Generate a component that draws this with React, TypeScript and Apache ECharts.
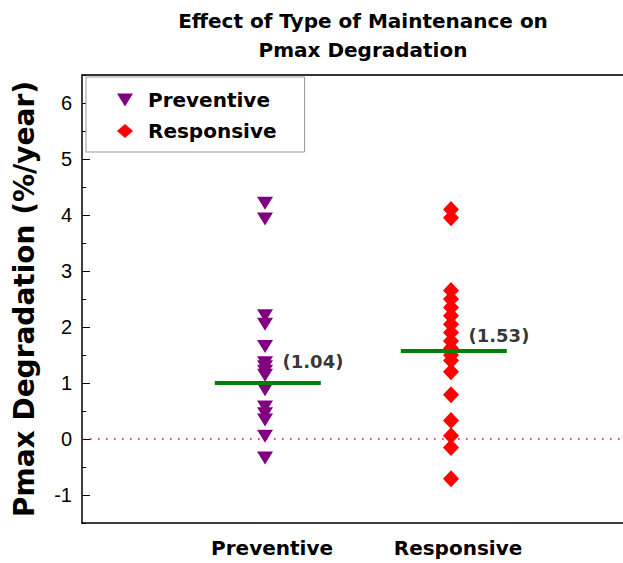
import React, { useEffect, useRef } from "react";
import * as echarts from "echarts";

const categories = ["Preventive", "Responsive"];
const categoryPos = [1, 2];
const preventive = [4.21, 3.93, 2.2, 2.05, 1.65, 1.36, 1.29, 1.21, 1.14, 0.88, 0.57, 0.45, 0.34, 0.05, -0.34];
const responsive = [4.1, 3.95, 2.65, 2.5, 2.35, 2.2, 2.05, 1.9, 1.75, 1.62, 1.5, 1.4, 1.2, 0.79, 0.33, 0.06, -0.15, -0.71];
const meanValues = [1.0, 1.57];
const meanLabels = ["(1.04)", "(1.53)"];
const yTickValues = [-1, 0, 1, 2, 3, 4, 5, 6];
const yMinorTickValues = [-1.5, -1, -0.5, 0, 0.5, 1, 1.5, 2, 2.5, 3, 3.5, 4, 4.5, 5, 5.5, 6, 6.5];

const FONT = "'Liberation Sans', Arial, Helvetica, sans-serif";
const BOLD = "'DejaVu Sans', 'Liberation Sans', Arial, sans-serif";
const TRI = "path://M0,0 L16,0 L8,13 Z";
const labelOffsets = [[0, -22], [0, -16]];
const GRID = { left: 82, top: 75, width: 555, height: 448, outerBoundsMode: "none", containLabel: false, show: false };
const X_MIN = 0.016;
const X_MAX = 3;
const Y_MIN = -1.5;
const Y_MAX = 6.5;

export default function App() {
  const ref = useRef<HTMLDivElement>(null);
  useEffect(() => {
    if (!ref.current) return;
    document.documentElement.style.overflow = "hidden";
    document.body.style.overflow = "hidden";
    document.body.style.margin = "0";
    const chart = echarts.init(ref.current, null, { renderer: "svg" });
    const meanLineSeries = meanValues.map((m, i) => ({
      name: "mean" + i,
      type: "line",
      data: [
        [categoryPos[i] - 0.27, m],
        [categoryPos[i] + 0.3, m],
      ],
      symbol: "none",
      lineStyle: { color: "#008000", width: 4 },
      z: 5,
      silent: true,
    }));
    const meanLabelSeries = {
      name: "meanLabels",
      type: "scatter",
      data: meanValues.map((m, i) => ({
        value: [categoryPos[i], m],
        label: { offset: labelOffsets[i] },
      })),
      symbolSize: 1,
      itemStyle: { color: "rgba(0,0,0,0)" },
      label: {
        show: true,
        position: "right",
        distance: 17,
        formatter: (p: any) => meanLabels[p.dataIndex],
        fontFamily: BOLD,
        fontSize: 18,
        fontWeight: "bold",
        color: "#000",
      },
      z: 6,
      silent: true,
    };
    chart.setOption({
      animation: false,
      backgroundColor: "#fff",
      title: {
        text: "Effect of Type of Maintenance on\nPmax Degradation",
        left: 363,
        top: 6,
        padding: 0,
        textAlign: "center",
        textStyle: { fontFamily: BOLD, fontSize: 20, fontWeight: "bold", color: "#000", lineHeight: 29 },
      },
      legend: {
        orient: "vertical",
        left: 86,
        top: 77,
        padding: [13, 28, 11, 31],
        itemGap: 11,
        itemWidth: 16,
        itemHeight: 14,
        borderColor: "#999",
        borderWidth: 1,
        backgroundColor: "#fff",
        textStyle: { fontFamily: BOLD, fontSize: 20, fontWeight: "bold", color: "#000", padding: [0, 0, 0, 10] },
        data: [
          { name: categories[0], icon: TRI },
          { name: categories[1], icon: "diamond" },
        ],
      },
      grid: [GRID, { ...GRID }],
      xAxis: [
        {
          type: "value",
          gridIndex: 0,
          position: "bottom",
          min: X_MIN,
          max: X_MAX,
          splitLine: { show: false },
          splitArea: { show: false },
          axisTick: { show: false },
          axisLine: { onZero: false, lineStyle: { color: "#000", width: 1.5 } },
          axisLabel: {
            margin: 15,
            padding: [0, 0, 0, 14],
            fontFamily: BOLD,
            fontSize: 20,
            fontWeight: "bold",
            color: "#000",
            customValues: categoryPos,
            formatter: (v: number) => {
              const idx = categoryPos.indexOf(v);
              return idx >= 0 ? categories[idx] : "";
            },
          },
        },
        {
          type: "value",
          gridIndex: 1,
          position: "top",
          min: X_MIN,
          max: X_MAX,
          splitLine: { show: false },
          splitArea: { show: false },
          axisTick: { show: false },
          axisLabel: { show: false },
          axisLine: { onZero: false, lineStyle: { color: "#333", width: 2 } },
        },
      ],
      yAxis: [
        {
          type: "value",
          gridIndex: 0,
          position: "left",
          min: Y_MIN,
          max: Y_MAX,
          name: "Pmax Degradation (%/year)",
          nameLocation: "middle",
          nameGap: 44,
          nameTextStyle: { fontFamily: BOLD, fontSize: 28, fontWeight: "bold", color: "#000" },
          splitLine: { show: false },
          splitArea: { show: false },
          axisLine: { show: true, onZero: false, lineStyle: { color: "#000", width: 1.5 } },
          axisTick: {
            show: true,
            inside: true,
            length: 8,
            customValues: yTickValues,
            lineStyle: { color: "#000", width: 1 },
          },
          axisLabel: {
            margin: 10,
            fontFamily: FONT,
            fontSize: 20,
            color: "#000",
            customValues: yTickValues,
            formatter: (v: number) => String(v),
          },
        },
        {
          type: "value",
          gridIndex: 1,
          position: "left",
          min: Y_MIN,
          max: Y_MAX,
          splitLine: { show: false },
          splitArea: { show: false },
          axisLine: { show: false, onZero: false },
          axisLabel: { show: false },
          axisTick: {
            show: true,
            inside: true,
            length: 4,
            customValues: yMinorTickValues,
            lineStyle: { color: "#000", width: 1 },
          },
        },
      ],
      series: [
        {
          name: "zeroLine",
          type: "line",
          data: [
            [X_MIN, 0],
            [X_MAX, 0],
          ],
          symbol: "none",
          silent: true,
          lineStyle: { color: "#ff0000", width: 1.5, type: [1.5, 6.5] },
          z: 2,
        },
        {
          name: categories[0],
          type: "scatter",
          data: preventive.map((v) => [categoryPos[0], v]),
          symbol: TRI,
          symbolSize: [16, 13],
          itemStyle: { color: "#800080", opacity: 1 },
          z: 3,
        },
        {
          name: categories[1],
          type: "scatter",
          data: responsive.map((v) => [categoryPos[1], v]),
          symbol: "diamond",
          symbolSize: [16, 17],
          itemStyle: { color: "#ff0000", opacity: 1 },
          z: 3,
        },
        ...meanLineSeries,
        meanLabelSeries,
      ],
    });
    return () => chart.dispose();
  }, []);
  return (
    <div
      ref={ref}
      style={{ position: "fixed", left: 0, top: 0, width: 660, height: 563, background: "#fff" }}
    />
  );
}
